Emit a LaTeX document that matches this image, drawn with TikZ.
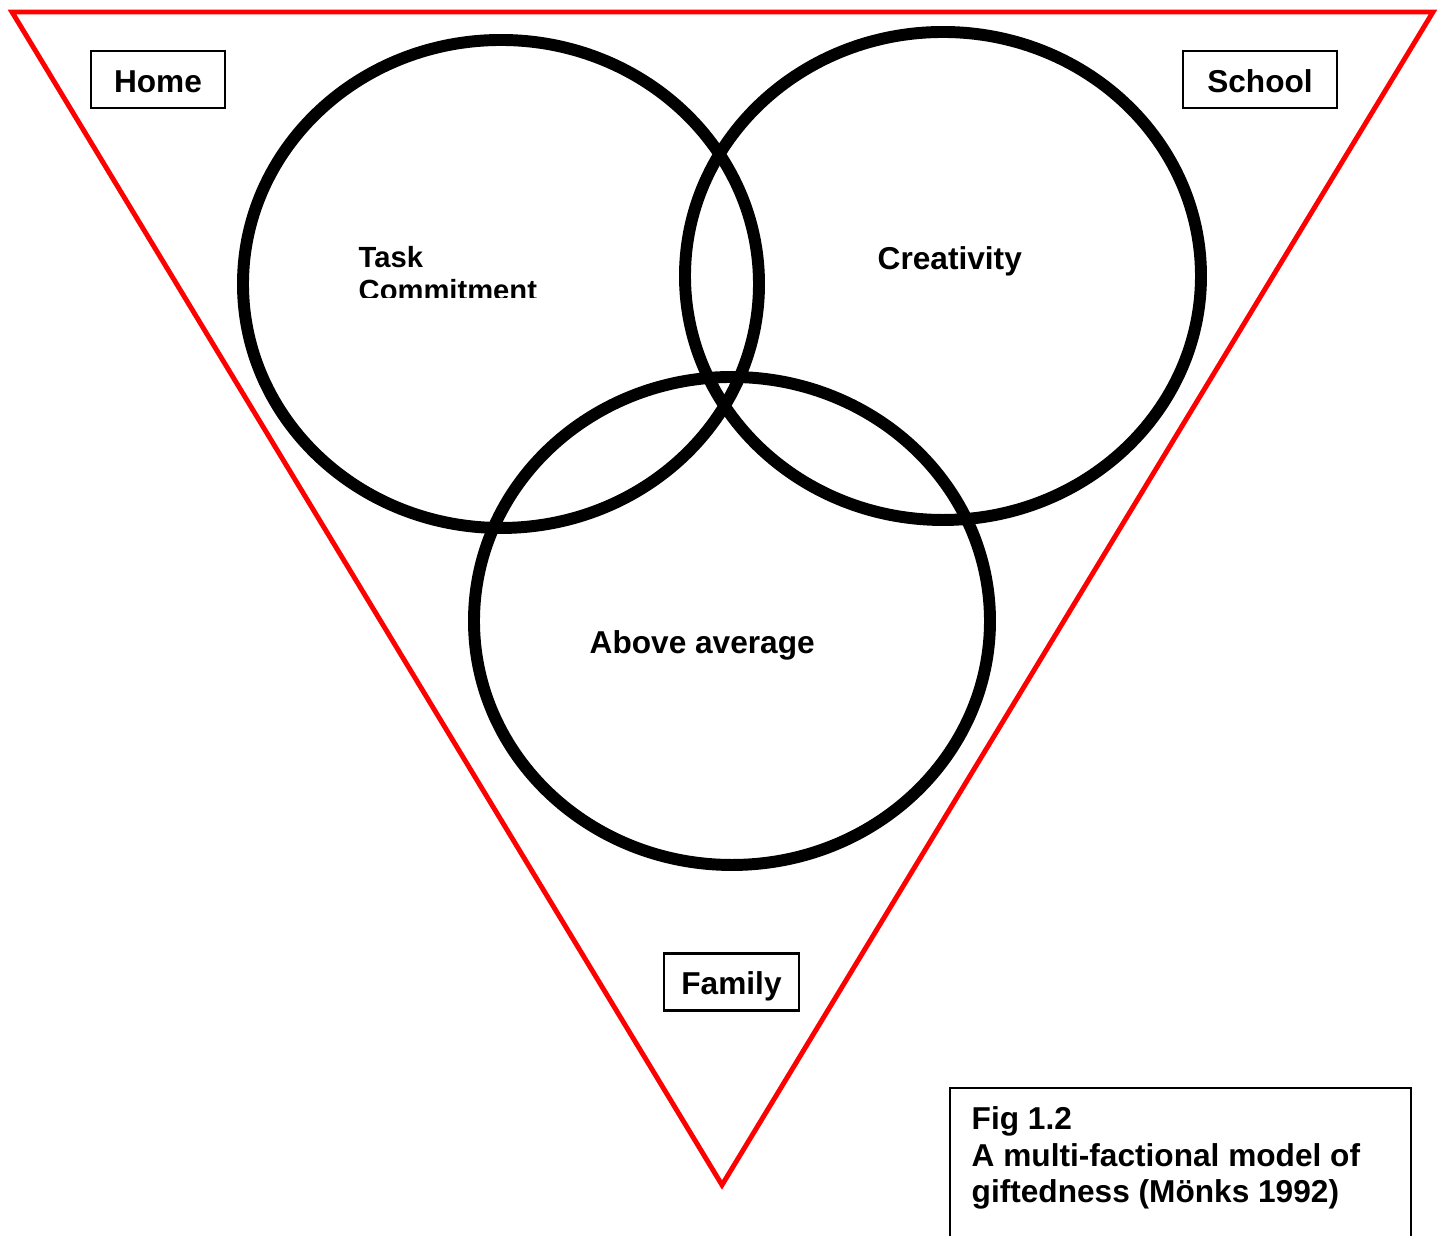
\documentclass[tikz,border=0pt]{standalone}
\usepackage{fontspec}
\setmainfont{Liberation Sans}
\usetikzlibrary{shapes,positioning}

\begin{document}
\begin{tikzpicture}[
  font=\bfseries\fontsize{9}{10.4}\selectfont,
  ring/.style={ellipse, draw=black, line width=3.4pt, minimum width=5.16cm, minimum height=4.88cm, inner sep=0pt},
  place/.style={rectangle, draw=black, line width=0.6pt, minimum height=5.7mm, inner sep=0pt, text height=2.6mm, text depth=0mm},
  ringtext/.style={inner sep=0pt, anchor=base west}
]
\useasboundingbox (0,0) rectangle (14.45,12.36);

% red frame
\coordinate (tl) at (0.12,12.24);
\coordinate (tr) at (14.33,12.24);
\coordinate (tip) at (7.22,0.51);
\draw[red, line width=1.4pt, line join=miter] (tl) -- (tr) -- (tip) -- cycle;

% the three rings
\node[ring] (task) at (5.01,9.52) {};
\node[ring] (crea) at (9.43,9.60) {};
\node[ring] (above) at (7.32,6.15) {};

\begin{scope}
  \clip (3.4,9.385) rectangle (5.8,10.2);
  \node[inner sep=0pt, anchor=north west, align=left, font=\bfseries\fontsize{8.3}{9.4}\selectfont] (tasktext) at (3.58,9.90) {Task\\Commitment};
\end{scope}
\node[ringtext] (creatext) at (8.77,9.66) {Creativity};
\node[ringtext] (abovetext) at (5.89,5.82) {Above average};

% places
\node[place, minimum width=13.4mm] (home) at (1.58,11.565) {Home};
\node[place, minimum width=15.4mm] (school) at (12.60,11.565) {School};
\node[place, minimum width=13.5mm] (family) at (7.315,2.54) {Family};

% caption
\coordinate (fbl) at (9.50,0);
\coordinate (ftl) at (9.50,1.48);
\coordinate (ftr) at (14.11,1.48);
\coordinate (fbr) at (14.11,0);
\draw[line width=0.6pt] (fbl) -- (ftl) -- (ftr) -- (fbr);
\node[inner sep=0pt, anchor=north west, align=left] (caption) at (9.71,1.30) {Fig 1.2\\A multi-factional model of\\giftedness (Mönks 1992)};

\end{tikzpicture}
\end{document}
